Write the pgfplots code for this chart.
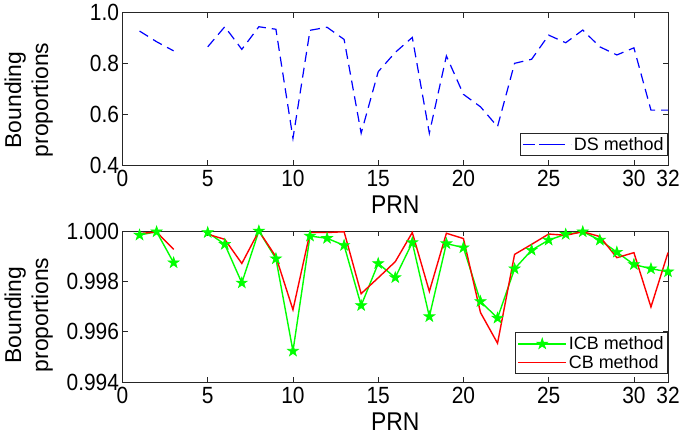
\documentclass[border=0pt]{standalone}
\usepackage{fontspec}
\setmainfont{Liberation Sans}
\usepackage{graphicx}
\usepackage{pgfplots}
\pgfplotsset{compat=1.18}

% MATLAB-like pentagram marker
\pgfdeclareplotmark{pentagram}{%
  \pgfpathmoveto{\pgfpointpolar{90}{\pgfplotmarksize}}%
  \pgfpathlineto{\pgfpointpolar{126}{0.382*\pgfplotmarksize}}%
  \pgfpathlineto{\pgfpointpolar{162}{\pgfplotmarksize}}%
  \pgfpathlineto{\pgfpointpolar{198}{0.382*\pgfplotmarksize}}%
  \pgfpathlineto{\pgfpointpolar{234}{\pgfplotmarksize}}%
  \pgfpathlineto{\pgfpointpolar{270}{0.382*\pgfplotmarksize}}%
  \pgfpathlineto{\pgfpointpolar{306}{\pgfplotmarksize}}%
  \pgfpathlineto{\pgfpointpolar{342}{0.382*\pgfplotmarksize}}%
  \pgfpathlineto{\pgfpointpolar{18}{\pgfplotmarksize}}%
  \pgfpathlineto{\pgfpointpolar{54}{0.382*\pgfplotmarksize}}%
  \pgfpathclose
  \pgfusepathqfillstroke
}

\definecolor{frame}{gray}{0.15}
\newcommand{\tall}[1]{\scalebox{1}[1.12]{#1}}

\pgfplotsset{
  prnaxis/.style={
    scale only axis, width=545.5bp,
    xmin=0, xmax=32, xtick={0,5,10,15,20,25,30,32},
    tick align=inside, tick pos=both, ticklabel pos=lower,
    major tick length=5bp,
    axis line style={frame, line width=0.8bp},
    tick style={frame, line width=0.8bp},
    unbounded coords=jump, clip=false,
    scaled ticks=false,
    /pgf/number format/assume math mode=true,
    tick label style={font=\fontsize{21}{24}\selectfont},
    xticklabel={\tall{\pgfmathprintnumber{\tick}}},
    xticklabel style={yshift=-2bp},
    label style={font=\fontsize{23}{27}\selectfont},
    xlabel={\tall{PRN}},
    xlabel style={yshift=-2bp},
    ylabel={Bounding\\proportions},
    legend style={font=\fontsize{18}{21}\selectfont, draw=frame, line width=0.8bp,
      anchor=south east, inner sep=2bp},
    legend cell align=left,
  },
  seglegend/.style 2 args={legend image code/.code={%
    \draw[##1, #1, line width=1.4bp] (0bp,0bp) -- (#2,0bp);}},
  dashlegend/.style={legend image code/.code={%
    \draw[##1, blue, line width=1.2bp, solid] (0bp,0bp) -- (12bp,0bp) (24bp,0bp) -- (36bp,0bp);
    \path (0bp,0bp) -- (48bp,0bp);}},
  starlegend/.style={legend image code/.code={%
    \draw[mark repeat=2,mark phase=2,##1, green, line width=1.4bp] plot coordinates {(0bp,0bp)(24bp,0bp)(48bp,0bp)};}},
}

\begin{document}
\begin{tikzpicture}
\begin{axis}[prnaxis,
  at={(122.5bp,-165bp)}, anchor=south west, height=152.5bp,
  ymin=0.4, ymax=1.0, ytick={0.4,0.6,0.8,1.0},
  yticklabel={\tall{\pgfmathprintnumber[fixed, fixed zerofill, precision=1]{\tick}}},
  ylabel style={at={(axis description cs:-0.172,0.426)}, anchor=center, align=center},
  legend style={at={(1,0.059)}},
]
\addplot[blue, line width=1.2bp, dash pattern=on 10bp off 6bp, dashlegend]
coordinates {
(1,0.927) (2,0.885) (3,0.849) (4,nan) (5,0.865) (6,0.944) (7,0.855) (8,0.944)
(9,0.934) (10,0.505) (11,0.930) (12,0.942) (13,0.894) (14,0.525) (15,0.767) (16,0.843)
(17,0.902) (18,0.525) (19,0.829) (20,0.678) (21,0.629) (22,0.551) (23,0.800) (24,0.816)
(25,0.911) (26,0.881) (27,0.931) (28,0.865) (29,0.833) (30,0.861) (31,0.616) (32,0.616)
};
\legend{DS method}
\end{axis}

\begin{axis}[prnaxis,
  at={(122.5bp,-382bp)}, anchor=south west, height=151bp,
  ymin=0.994, ymax=1.000, ytick={0.994,0.996,0.998,1.000},
  yticklabel={\tall{\pgfmathprintnumber[fixed, fixed zerofill, precision=3]{\tick}}},
  ylabel style={at={(axis description cs:-0.172,0.444)}, anchor=center, align=center},
  legend style={at={(1,0.053)}},
]
\addplot[green, line width=1.4bp, mark=pentagram, mark size=5.8bp,
  mark options={fill=green, draw=green, line width=0.6bp, solid}, starlegend]
coordinates {
(1,0.99984) (2,0.99997) (3,0.99874) (4,nan) (5,0.99994) (6,0.99947) (7,0.99794) (8,1.00000)
(9,0.99890) (10,0.99523) (11,0.99980) (12,0.99971) (13,0.99943) (14,0.99704) (15,0.99871) (16,0.99815)
(17,0.99954) (18,0.99660) (19,0.99950) (20,0.99934) (21,0.99720) (22,0.99654) (23,0.99850) (24,0.99924)
(25,0.99964) (26,0.99987) (27,0.99997) (28,0.99964) (29,0.99916) (30,0.99867) (31,0.99850) (32,0.99838)
};
\addplot[red, line width=1.4bp, seglegend={red}{48bp}]
coordinates {
(1,0.99990) (2,0.99996) (3,0.99927) (4,nan) (5,0.99987) (6,0.99967) (7,0.99871) (8,1.00000)
(9,0.99898) (10,0.99687) (11,0.99994) (12,0.99994) (13,0.99997) (14,0.99751) (15,0.99814) (16,0.99878)
(17,0.99994) (18,0.99760) (19,0.99991) (20,0.99970) (21,0.99676) (22,0.99554) (23,0.99907) (24,0.99947)
(25,0.99988) (26,0.99983) (27,0.99997) (28,0.99978) (29,0.99894) (30,0.99914) (31,0.99698) (32,0.99914)
};
\legend{ICB method, CB method}
\end{axis}

\pgfresetboundingbox
\useasboundingbox (0,0) rectangle (685bp,-437bp);
\end{tikzpicture}
\end{document}
